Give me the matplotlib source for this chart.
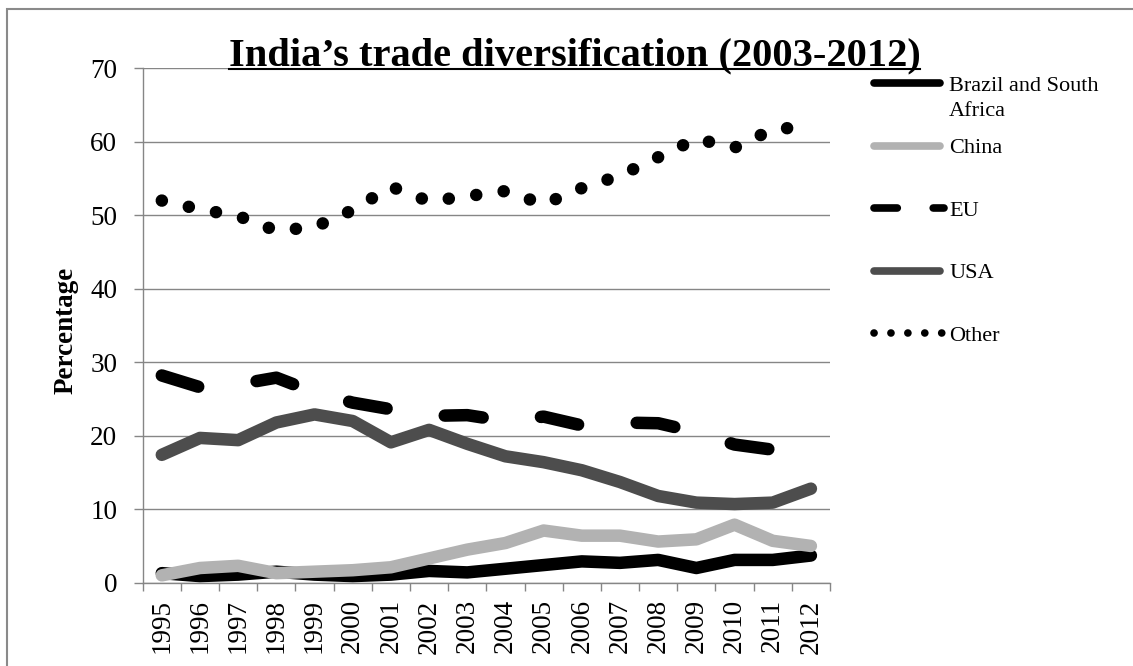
import matplotlib
import numpy as np

matplotlib.use("Agg")
import matplotlib.pyplot as plt  # noqa: E402
from matplotlib.lines import Line2D  # noqa: E402
from matplotlib.patches import Rectangle  # noqa: E402

plt.rcParams["font.family"] = ["Liberation Serif", "DejaVu Serif"]

W, H = 1133, 666

# Values (percent of India's trade).
YEARS = ["1995", "1996", "1997", "1998", "1999", "2000", "2001", "2002", "2003",
         "2004", "2005", "2006", "2007", "2008", "2009", "2010", "2011", "2012"]
BRAZIL_SA = [1.3, 0.9, 1.1, 1.5, 1.1, 0.9, 1.1, 1.6, 1.4,
             1.9, 2.4, 2.9, 2.7, 3.1, 2.0, 3.1, 3.1, 3.7]
CHINA = [1.0, 2.0, 2.3, 1.3, 1.5, 1.7, 2.1, 3.3, 4.5,
         5.4, 7.1, 6.4, 6.4, 5.6, 5.9, 7.9, 5.7, 5.0]
EU = [28.2, 26.6, 27.0, 27.9, 25.9, 24.5, 23.6, 22.7, 22.8,
      22.0, 22.6, 21.4, 21.8, 21.7, 20.5, 18.8, 18.1, np.nan]
USA = [17.4, 19.7, 19.4, 21.8, 22.9, 22.0, 19.1, 20.8, 18.9,
       17.2, 16.4, 15.3, 13.7, 11.8, 10.9, 10.7, 10.9, 12.8]
OTHER = [52.0, 50.8, 49.9, 47.9, 48.4, 50.7, 53.9, 51.9, 52.6,
         53.3, 51.5, 53.7, 55.4, 57.9, 60.4, 59.2, 61.7, 62.1]
LABELS = ["Brazil and South\nAfrica", "China", "EU", "USA", "Other"]

# style per series: colour, dash pattern (in line widths) or None for solid
STYLES = [
    ("#000000", None),
    ("#b2b2b2", None),
    ("#000000", (3.05, 4.7)),
    ("#4d4d4d", None),
    ("#000000", (0.01, 2.205)),
]
GRID = "#868686"


def px(x, y):
    """pixel position (from top-left) -> figure fraction"""
    return x / W, 1 - y / H


fig = plt.figure(figsize=(W / 100, H / 100), dpi=100)
ax = fig.add_axes([142.7 / W, 1 - 582.7 / H, (830 - 142.7) / W, (582.7 - 68.3) / H])

x = np.arange(len(YEARS))
for vals, (color, dashes) in zip([BRAZIL_SA, CHINA, EU, USA, OTHER], STYLES):
    line, = ax.plot(x, vals, color=color, lw=9,
                    solid_capstyle="round", dash_capstyle="round",
                    solid_joinstyle="round", dash_joinstyle="round")
    if dashes:
        line.set_dashes(dashes)

ax.set_xlim(-0.5, len(YEARS) - 0.5)
ax.set_ylim(0, 70)
ax.set_yticks(range(0, 71, 10))
ax.yaxis.grid(True, color=GRID, lw=1.0)
ax.set_axisbelow(True)
for s in ("top", "right"):
    ax.spines[s].set_visible(False)
for s in ("left", "bottom"):
    ax.spines[s].set_color(GRID)
    ax.spines[s].set_linewidth(1.0)

# Excel style: tick marks between categories, labels centred
ax.set_xticks(np.arange(-0.5, len(YEARS), 1.0))
ax.set_xticklabels([])
ax.set_xticks(x, minor=True)
ax.set_xticklabels(YEARS, minor=True, rotation=90, fontsize=19.5)
ax.tick_params(axis="x", which="major", length=5.8, color=GRID, width=1.0)
ax.tick_params(axis="x", which="minor", length=0, pad=12)
ax.tick_params(axis="y", length=6.3, color=GRID, width=1.0, pad=12, labelsize=19.5)

ax.set_ylabel("Percentage", fontsize=19.5, fontweight="bold")
ax.yaxis.set_label_coords((79 - 142.7) / (830 - 142.7), 0.49)

# legend, drawn by hand to match the Excel layout
leg_y = [83.3, 146, 208.3, 270.7, 333.3]
for label, (color, dashes), yy in zip(LABELS, STYLES, leg_y):
    # patterned handles need a touch more length so the last dash/dot shows
    x_end = 943.5 if dashes else 939.5
    (x0, y0), (x1, _) = px(873.5, yy), px(x_end, yy)
    ln = Line2D([x0, x1], [y0, y0], transform=fig.transFigure, color=color, lw=5.5,
                solid_capstyle="round", dash_capstyle="round")
    if dashes:
        ln.set_dashes(dashes)
    fig.add_artist(ln)
    for k, part in enumerate(label.split("\n")):
        fig.text(*px(949, yy + 7.3 + 25 * k), part, fontsize=16, va="baseline", ha="left")

title = fig.text(*px(574.5, 65), "India\u2019s trade diversification (2003-2012)",
                 fontsize=29.2, fontweight="bold", ha="center", va="baseline")

# outer chart border (runs off the right and bottom edges)
fig.add_artist(Rectangle(px(7, H + 50), 2, (H + 41) / H, transform=fig.transFigure,
                         fill=False, ec="#8a8a8a", lw=1.5))

# underline the title
fig.canvas.draw()
bb = title.get_window_extent()
fig.add_artist(Line2D([bb.x0 / W, bb.x1 / W], [1 - 68.5 / H] * 2,
                      transform=fig.transFigure, color="black", lw=1.5))

fig.savefig("out.png", dpi=100)
